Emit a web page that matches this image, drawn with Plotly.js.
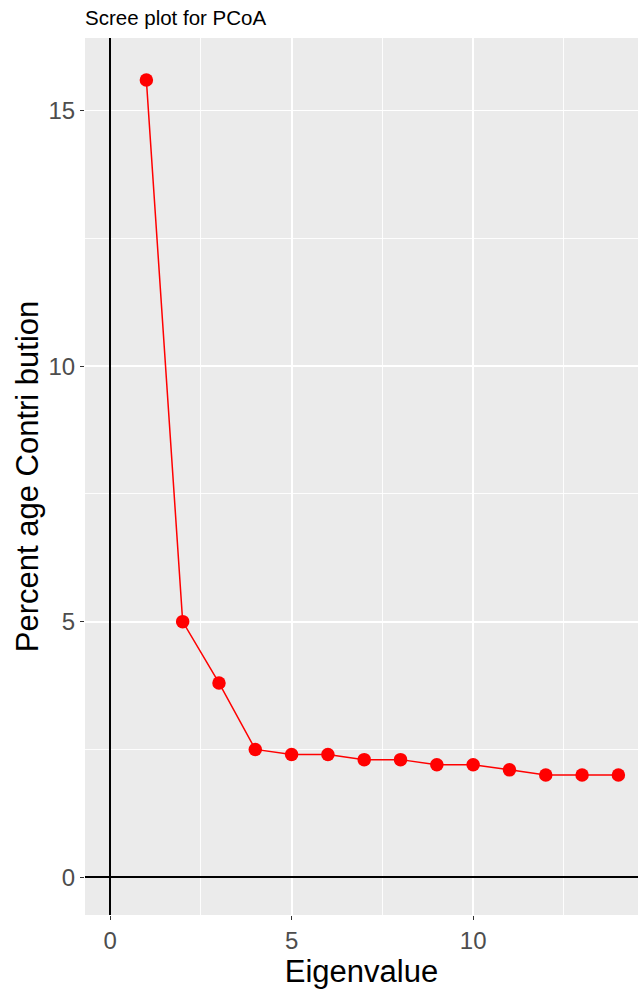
<!DOCTYPE html>
<html>
<head>
<meta charset="utf-8">
<script src="https://cdn.plot.ly/plotly-3.0.1.min.js"></script>
<style>html,body{margin:0;padding:0;background:#fff;}</style>
</head>
<body>
<div id="chart" style="width:638px;height:990px;"></div>
<script>
const eigenIndex = [1,2,3,4,5,6,7,8,9,10,11,12,13,14];
const percentContribution = [15.6,5.0,3.8,2.5,2.4,2.4,2.3,2.3,2.2,2.2,2.1,2.0,2.0,2.0];
const xTickVals = [0,5,10];
const yTickVals = [0,5,10,15];

const trace = {
  x: eigenIndex,
  y: percentContribution,
  type: 'scatter',
  mode: 'lines+markers',
  line: {color: '#ff0000', width: 1.5},
  marker: {color: '#ff0000', size: 13.5},
  hoverinfo: 'skip',
  cliponaxis: false
};

const font = "Arial, 'Liberation Sans', sans-serif";
const layout = {
  width: 638, height: 990,
  margin: {l: 85, r: 0, t: 38, b: 75},
  paper_bgcolor: '#ffffff',
  plot_bgcolor: '#ebebeb',
  showlegend: false,
  font: {family: font},
  title: {
    text: 'Scree plot for PCoA',
    font: {family: font, size: 20.5, color: '#000'},
    x: 0, xanchor: 'left', xref: 'paper',
    y: 1 - 18/990, yref: 'container', yanchor: 'middle'
  },
  xaxis: {
    range: [-0.69, 14.54],
    tickmode: 'array', tickvals: xTickVals,
    ticks: 'outside', ticklen: 4, tickcolor: '#333333', tickwidth: 1,
    tickfont: {size: 24, color: '#4d4d4d', family: font},
    showgrid: true, gridcolor: '#ffffff', gridwidth: 1.8,
    minor: {dtick: 2.5, tick0: 0, showgrid: true, gridcolor: '#ffffff', gridwidth: 0.9, ticks: ''},
    zeroline: true, zerolinecolor: '#000000', zerolinewidth: 1.5,
    showline: false,
    title: {text: 'Eigenvalue', font: {size: 31, color: '#000', family: font}, standoff: 3}
  },
  yaxis: {
    range: [-0.74, 16.42],
    tickmode: 'array', tickvals: yTickVals,
    ticks: 'outside', ticklen: 4, tickcolor: '#333333', tickwidth: 1,
    tickfont: {size: 24, color: '#4d4d4d', family: font},
    showgrid: true, gridcolor: '#ffffff', gridwidth: 1.8,
    minor: {dtick: 2.5, tick0: 0, showgrid: true, gridcolor: '#ffffff', gridwidth: 0.9, ticks: ''},
    zeroline: true, zerolinecolor: '#000000', zerolinewidth: 1.5,
    showline: false,
    title: {text: 'Percent age Contri bution', font: {size: 31, color: '#000', family: font}, standoff: 0}
  }
};

Plotly.newPlot('chart', [trace], layout, {displayModeBar: false, staticPlot: true});
</script>
</body>
</html>
